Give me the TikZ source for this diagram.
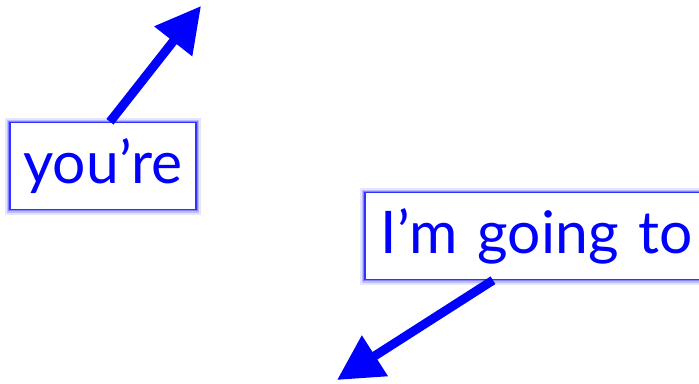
\documentclass[tikz,border=0pt]{standalone}
\usepackage{fontspec}
\setmainfont{Lato}
\usetikzlibrary{arrows.meta,positioning}
\definecolor{ink}{HTML}{0000FF}

\begin{document}
\begin{tikzpicture}[
  x=1bp, y=1bp,
  word/.style={fill=white, draw=ink!80, line width=1.5bp, text=ink, inner ysep=0bp,
    minimum height=87bp, font=\fontsize{59}{66}\selectfont,
    preaction={draw=ink, draw opacity=.10, line width=10bp},
    preaction={draw=ink, draw opacity=.18, line width=6bp},
    preaction={draw=ink, draw opacity=.30, line width=3.5bp}},
  pointer/.style={-{Triangle[length=45bp, width=46bp]}, ink, line width=9bp}
]
\clip (0,0) rectangle (699,383);

\coordinate (up) at (201,377);
\coordinate (down) at (337,3);

\node[word, minimum width=186bp] (you) at (103,217) {you’re};
\node[word, anchor=west, text width=320bp, align=left, inner xsep=16bp] (going) at (364,147) {I’m going to};

\draw[pointer] ([xshift=7bp]you.north) -- (up);
\draw[pointer] ([xshift=129bp]going.south west) -- (down);
\end{tikzpicture}
\end{document}
